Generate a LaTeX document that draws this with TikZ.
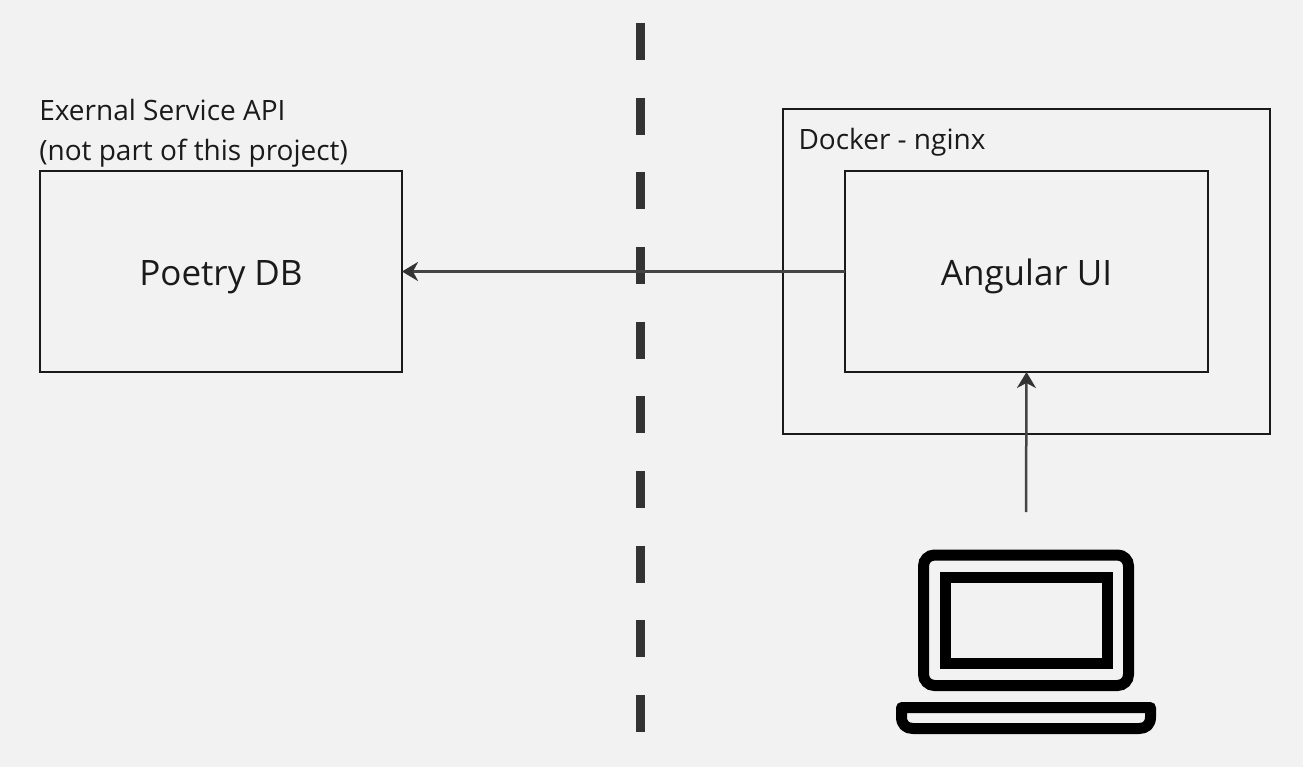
\documentclass[tikz,border=0pt]{standalone}
\usepackage{fontspec}
\setmainfont{Open Sans}
\usetikzlibrary{arrows.meta,calc}
\definecolor{bgc}{HTML}{F2F2F2}
\definecolor{boxc}{HTML}{1A1A1A}
\definecolor{linec}{HTML}{444444}
\definecolor{dashc}{HTML}{333333}
\tikzset{
  x=1pt,y=-1pt,
  boxnode/.style={draw=boxc,line width=2.6pt,rectangle,inner sep=0pt,outer sep=0pt,text=boxc,font=\fontsize{35}{42}\selectfont,anchor=north west,text height=27pt,text depth=0pt},
  caption/.style={inner sep=0pt,outer sep=0pt,text=boxc,font=\fontsize{28}{40}\selectfont,anchor=base west,align=left},
  connector/.style={draw=linec,line width=2.5pt,-{Stealth[length=16pt,width=19pt,inset=5pt,color=dashc]}},
  divider/.style={draw=dashc,line width=9pt,dash pattern=on 37pt off 37.67pt},
  laptop/.style={draw=black,line width=11pt}
}
\begin{document}
\begin{tikzpicture}
\path[use as bounding box,fill=bgc] (0,0) rectangle (1303,767);
\coordinate (dtop) at (640,23);
\coordinate (dbot) at (640,732);
\draw[divider] (dtop) -- (dbot);
\node[boxnode,minimum width=362pt,minimum height=201pt] (poetry) at (40,171) {Poetry DB};
\node[boxnode,minimum width=487pt,minimum height=325pt] (docker) at (783,109) {};
\node[boxnode,minimum width=363pt,minimum height=201pt] (angular) at (845,171) {Angular UI};
\node[caption] (ext1) at (39.3,121) {Exernal Service API};
\node[caption] (ext2) at (39.3,161) {(not part of this project)};
\node[caption] (dock) at (798.5,150) {Docker - nginx};
\coordinate (user) at (1026,512);
\draw[connector] (angular.west) -- (poetry.east);
\draw[connector] (user) -- (angular.south);
\draw[laptop,rounded corners=11pt] (923.5,555) rectangle (1128.5,685.5);
\draw[laptop] (945,577.5) rectangle (1107.5,663.5);
\draw[laptop,line join=round] (901.5,707.5) -- (1150.5,707.5) -- (1150.5,717)
  .. controls (1150.5,724.5) and (1146,728.5) .. (1139,728.5) -- (913,728.5)
  .. controls (906,728.5) and (901.5,724.5) .. (901.5,717) -- cycle;
\end{tikzpicture}
\end{document}
